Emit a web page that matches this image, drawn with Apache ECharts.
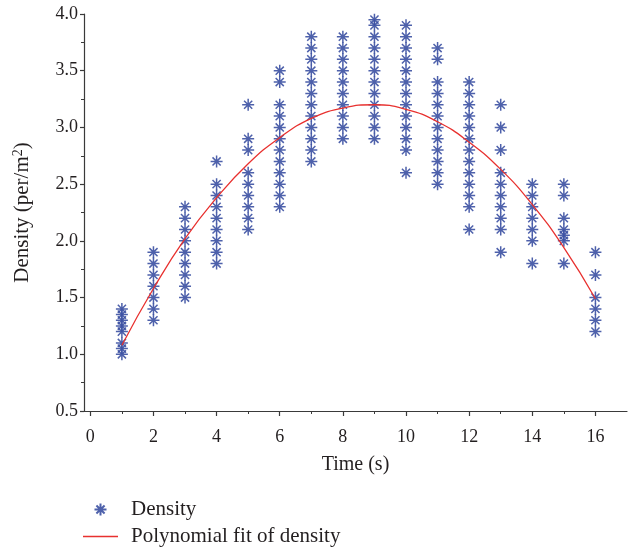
<!DOCTYPE html>
<html>
<head>
<meta charset="utf-8">
<script src="https://cdn.jsdelivr.net/npm/echarts@6/dist/echarts.min.js"></script>
<style>html,body{margin:0;padding:0;background:#fff}#c{width:629px;height:551px}</style>
</head>
<body>
<div id="c"></div>
<script>
// Observed densities at each time (s)
const times = [1,2,3,4,5,6,7,8,9,10,11,12,13,14,15,16];
const d01 = [1.0,1.05,1.1,1.2,1.25,1.3,1.35,1.4];
const d02 = [1.3,1.4,1.5,1.6,1.7,1.8,1.9];
const d03 = [1.5,1.6,1.7,1.8,1.9,2.0,2.1,2.2,2.3];
const d04 = [1.8,1.9,2.0,2.1,2.2,2.3,2.4,2.5,2.7];
const d05 = [2.1,2.2,2.3,2.4,2.5,2.6,2.8,2.9,3.2];
const d06 = [2.3,2.4,2.5,2.6,2.7,2.8,2.9,3.0,3.1,3.2,3.4,3.5];
const d07 = [2.7,2.8,2.9,3.0,3.1,3.2,3.3,3.4,3.5,3.6,3.7,3.8];
const d08 = [2.9,3.0,3.1,3.2,3.3,3.4,3.5,3.6,3.7,3.8];
const d09 = [2.9,3.0,3.1,3.2,3.3,3.4,3.5,3.6,3.7,3.8,3.9,3.95];
const d10 = [2.6,2.8,2.9,3.0,3.1,3.2,3.3,3.4,3.5,3.6,3.7,3.8,3.9];
const d11 = [2.5,2.6,2.7,2.8,2.9,3.0,3.1,3.2,3.3,3.4,3.6,3.7];
const d12 = [2.1,2.3,2.4,2.5,2.6,2.7,2.8,2.9,3.0,3.1,3.2,3.3,3.4];
const d13 = [1.9,2.1,2.2,2.3,2.4,2.5,2.6,2.8,3.0,3.2];
const d14 = [1.8,2.0,2.1,2.2,2.3,2.4,2.5];
const d15 = [1.8,2.0,2.05,2.1,2.2,2.4,2.5];
const d16 = [1.2,1.3,1.4,1.5,1.7,1.9];
const densityColumns = [d01,d02,d03,d04,d05,d06,d07,d08,d09,d10,d11,d12,d13,d14,d15,d16];

// Polynomial fit
const fitTimes  = [1,2,3,4,5,6,7,8,9,10,11,12,13,14,15,16];
const fitValues = [1.08,1.58,2.02,2.38,2.68,2.91,3.08,3.17,3.20,3.16,3.05,2.87,2.63,2.32,1.94,1.49];

// Axis tick labels
const xMajorTicks = [0,2,4,6,8,10,12,14,16];
const xMinorTicks = [1,3,5,7,9,11,13,15];

const scatterData = [];
times.forEach((t, i) => densityColumns[i].forEach(v => scatterData.push([t, v])));
const fitData = fitTimes.map((t, i) => [t, fitValues[i]]);

const FONT = 'Liberation Serif';
const TXT = '#231f20';
const AX = '#3a3a3a';
const star = 'path://M5,0L5,10M0,5L10,5M1.6,1.6L8.4,8.4M8.4,1.6L1.6,8.4';

const chart = echarts.init(document.getElementById('c'), null, {renderer: 'canvas'});
chart.setOption({
  animation: false,
  backgroundColor: '#fff',
  textStyle: {fontFamily: FONT, color: TXT},
  grid: {left: 84, top: 14, right: 2, bottom: 140, containLabel: false},
  legend: {
    orient: 'vertical', left: 83, top: 499, padding: 0,
    itemWidth: 35, itemHeight: 12, itemGap: 6,
    textStyle: {fontFamily: FONT, fontSize: 21, color: TXT, padding: [0,0,0,8]},
    data: [
      {name: 'Density'},
      {name: 'Polynomial fit of density', icon: 'path://M0,0L35,0L35,1.4L0,1.4Z'}
    ]
  },
  xAxis: [{
    type: 'value', min: -0.2, max: 17,
    position: 'bottom',
    name: 'Time (s)', nameLocation: 'middle', nameGap: 44,
    nameTextStyle: {fontFamily: FONT, fontSize: 20, color: TXT},
    axisLine: {show: true, onZero: false, lineStyle: {color: AX, width: 1.2}},
    axisTick: {show: true, customValues: xMajorTicks, length: 5, lineStyle: {color: AX, width: 1.2}},
    axisLabel: {customValues: xMajorTicks, fontFamily: FONT, fontSize: 18, color: TXT, margin: 17},
    splitLine: {show: false}
  }, {
    type: 'value', min: -0.2, max: 17,
    position: 'bottom', gridIndex: 0,
    axisLine: {show: false, onZero: false},
    axisTick: {show: true, customValues: xMinorTicks, length: 3, lineStyle: {color: AX, width: 1}},
    axisLabel: {show: false},
    splitLine: {show: false}
  }],
  yAxis: {
    type: 'value', min: 0.5, max: 4.0, interval: 0.5,
    name: '{a|Density (per/m}{s|2}{a|)}', nameLocation: 'middle', nameGap: 50,
    nameTextStyle: {
      rich: {
        a: {fontFamily: FONT, fontSize: 21, color: TXT},
        s: {fontFamily: FONT, fontSize: 14, color: TXT, verticalAlign: 'top', padding: [0,0,9,0]}
      }
    },
    axisLine: {show: true, onZero: false, lineStyle: {color: AX, width: 1.2}},
    axisTick: {show: true, length: 4, lineStyle: {color: AX, width: 1.2}},
    minorTick: {show: true, splitNumber: 2, length: 3, lineStyle: {color: AX, width: 1}},
    axisLabel: {fontFamily: FONT, fontSize: 18, color: TXT, margin: 6, formatter: v => v.toFixed(1)},
    splitLine: {show: false}
  },
  series: [{
    name: 'Density', type: 'scatter', xAxisIndex: 0,
    symbol: star, symbolSize: 12,
    itemStyle: {color: 'rgba(0,0,0,0)', borderColor: '#3b50a2', borderWidth: 1.5, opacity: 0.9},
    data: scatterData, z: 2
  }, {
    name: 'Polynomial fit of density', type: 'line', xAxisIndex: 0,
    smooth: true, symbol: 'none', showSymbol: false,
    lineStyle: {color: '#e8312f', width: 1.3},
    itemStyle: {color: '#e8312f'},
    data: fitData, z: 3
  }]
});
</script>
</body>
</html>
